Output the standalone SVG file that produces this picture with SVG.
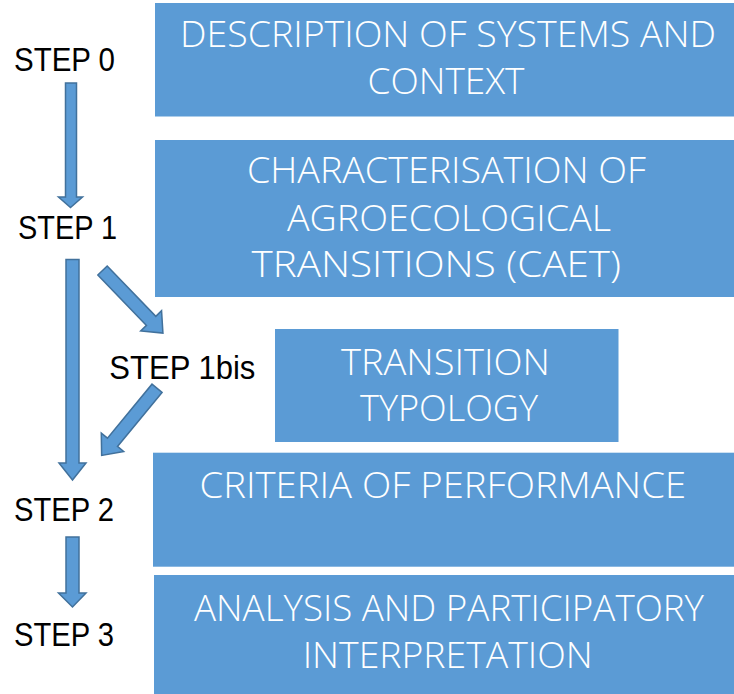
<svg xmlns="http://www.w3.org/2000/svg" width="734" height="694" viewBox="0 0 734 694">
  <style>
    .box { fill: #5B9BD5; }
    .boxtxt { font-family: "Open Sans", "Liberation Sans", sans-serif; font-weight: 300; font-size: 37px; fill: #FFFFFF; }
    .step { font-family: "Liberation Sans", "DejaVu Sans", sans-serif; font-size: 33.5px; fill: #000000; }
    .arrow { fill: #5B9BD5; stroke: #41719C; stroke-width: 1.5; stroke-linejoin: miter; }
  </style>
  <defs>
    <!-- block arrow along +x: 87 long, shaft 13 wide, head 29 wide -->
    <path id="diagArrow" d="M0,-6.5 H70 V-14.5 L87,0 L70,14.5 V6.5 H0 Z"/>
  </defs>

  <!-- process blocks -->
  <g id="node-description">
    <rect class="box" x="155" y="3" width="579" height="113.5"/>
    <text class="boxtxt" x="180" y="46.7" textLength="536" lengthAdjust="spacingAndGlyphs">DESCRIPTION OF SYSTEMS AND</text>
    <text class="boxtxt" x="367.5" y="94" textLength="157" lengthAdjust="spacingAndGlyphs">CONTEXT</text>
  </g>
  <g id="node-caet">
    <rect class="box" x="155" y="140" width="579" height="157"/>
    <text class="boxtxt" x="247" y="182.7" textLength="399" lengthAdjust="spacingAndGlyphs">CHARACTERISATION OF</text>
    <text class="boxtxt" x="287" y="230.7" textLength="324" lengthAdjust="spacingAndGlyphs">AGROECOLOGICAL</text>
    <text class="boxtxt" x="251.5" y="276.7" textLength="369.5" lengthAdjust="spacingAndGlyphs">TRANSITIONS (CAET)</text>
  </g>
  <g id="node-typology">
    <rect class="box" x="275" y="329" width="343.5" height="113"/>
    <text class="boxtxt" x="341" y="375" textLength="209" lengthAdjust="spacingAndGlyphs">TRANSITION</text>
    <text class="boxtxt" x="360" y="421" textLength="178" lengthAdjust="spacingAndGlyphs">TYPOLOGY</text>
  </g>
  <g id="node-criteria">
    <rect class="box" x="153" y="452.7" width="581" height="114"/>
    <text class="boxtxt" x="199.5" y="498.3" textLength="486.5" lengthAdjust="spacingAndGlyphs">CRITERIA OF PERFORMANCE</text>
  </g>
  <g id="node-analysis">
    <rect class="box" x="154" y="575" width="580" height="119"/>
    <text class="boxtxt" x="194" y="621" textLength="510" lengthAdjust="spacingAndGlyphs">ANALYSIS AND PARTICIPATORY</text>
    <text class="boxtxt" x="302.7" y="668.3" textLength="290" lengthAdjust="spacingAndGlyphs">INTERPRETATION</text>
  </g>

  <!-- step labels -->
  <g id="node-step0"><text class="step" x="14" y="70.7" textLength="101" lengthAdjust="spacingAndGlyphs">STEP 0</text></g>
  <g id="node-step1"><text class="step" x="18" y="239" textLength="99" lengthAdjust="spacingAndGlyphs">STEP 1</text></g>
  <g id="node-step1bis"><text class="step" x="109.3" y="379.3" textLength="146" lengthAdjust="spacingAndGlyphs">STEP 1bis</text></g>
  <g id="node-step2"><text class="step" x="14" y="520.7" textLength="100" lengthAdjust="spacingAndGlyphs">STEP 2</text></g>
  <g id="node-step3"><text class="step" x="14" y="645.7" textLength="100" lengthAdjust="spacingAndGlyphs">STEP 3</text></g>

  <!-- connectors -->
  <g id="connectors">
    <polygon class="arrow" points="65.5,83 76.5,83 76.5,197 82.5,197 70.5,207.5 58.5,197 65.5,197"/>
    <polygon class="arrow" points="66,259.5 79,259.5 79,463 86,463 72.5,480 59,463 66,463"/>
    <polygon class="arrow" points="66,537 79,537 79,593 86,593 72.5,607 58.5,593 66,593"/>
    <use class="arrow" href="#diagArrow" transform="translate(102.5,270.5) rotate(46)"/>
    <use class="arrow" href="#diagArrow" transform="translate(157,388.3) rotate(129.5)"/>
  </g>
</svg>
